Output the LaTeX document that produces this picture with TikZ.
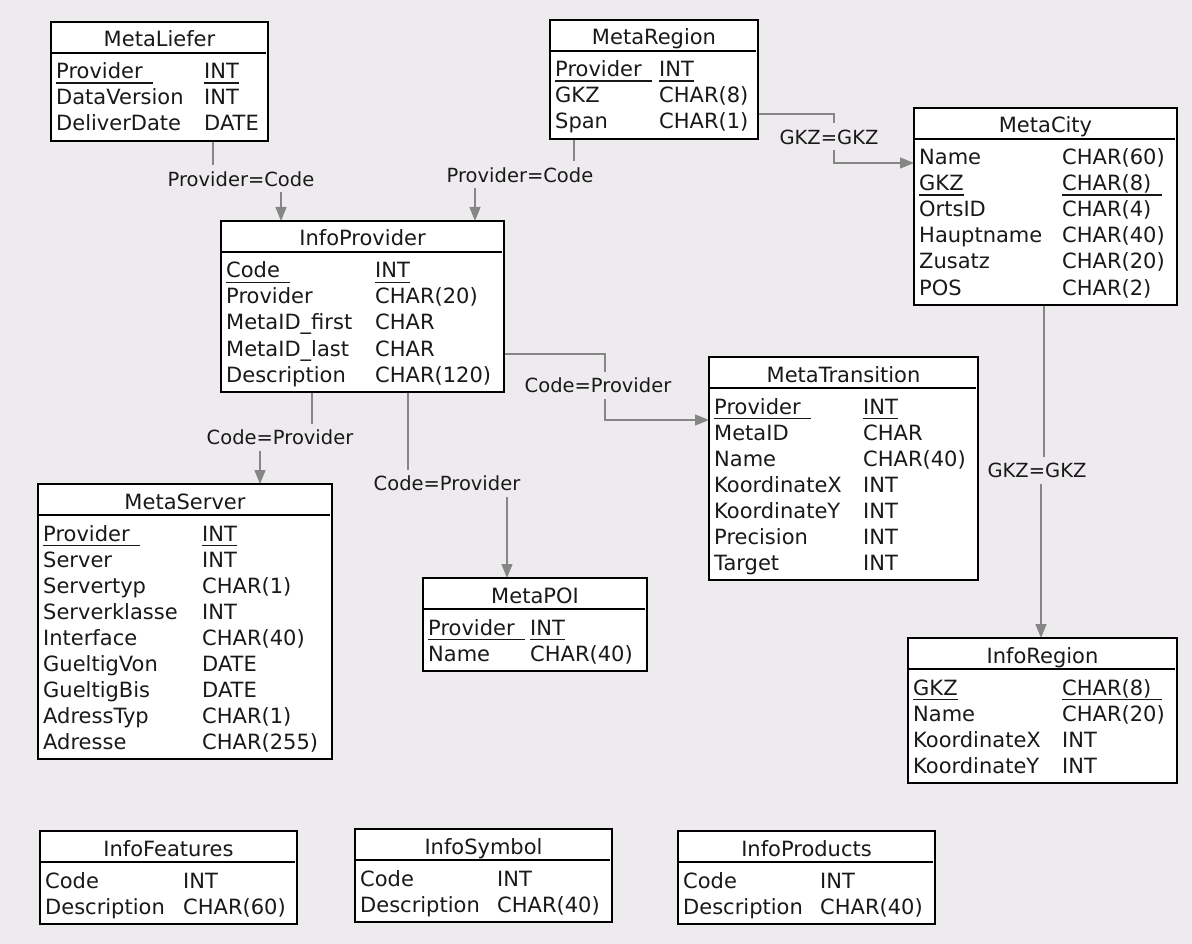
\documentclass[tikz,border=0pt]{standalone}
\usepackage{fontspec}
\setmainfont{DejaVu Sans}
\usetikzlibrary{arrows.meta,calc}
\definecolor{canvas}{HTML}{EEEBEE}
\definecolor{wire}{HTML}{868686}
\pgfdeclarelayer{bg}
\pgfdeclarelayer{wires}
\pgfsetlayers{bg,wires,main}

% key columns are underlined; \pks adds a trailing blank under the rule
\newcommand\pk[1]{\setbox0\hbox{#1}\rlap{\rule[-4.8pt]{\wd0}{1.3pt}}\box0}
\newcommand\pks[1]{\pk{#1\hspace{0.5em}}}

\tikzset{
  tbl/.style={draw=black, line width=1.2pt, fill=white, rectangle, inner sep=0pt, outer sep=0pt},
  txt/.style={inner sep=0pt, text=black!90, font=\fontsize{21pt}{26pt}\selectfont},
  titlerule/.style={line width=1.8pt},
  rel/.style={draw=wire, line width=1.4pt, -{Triangle[length=14pt,width=11pt]}},
  lbl/.style={fill=canvas, inner xsep=3pt, inner ysep=6pt, text height=15pt, text depth=0pt,
              text=black!90, font=\fontsize{19.5pt}{24pt}\selectfont},
}

% #1 name, #2 left, #3 top, #4 width, #5 type column offset, #6 rows, #7 title, #8 field/type list
\newcommand\ertable[8]{%
  \pgfmathsetmacro\tabh{41+26*#6}%
  \node[tbl, minimum width=#4pt, minimum height=\tabh pt, anchor=north west] (#1) at (#2,#3) {};
  \node[txt, anchor=base] (#1-title) at ($(#1.north)+(0,25)$) {#7};
  \draw[titlerule] ($(#1.north west)+(1,31)$) -- ($(#1.north east)+(-2,31)$);
  \foreach \fa/\fb [count=\i] in {#8} {
    \node[txt, anchor=base west] (#1-\i-a) at ($(#1.north west)+(5,{57+26*(\i-1)})$) {\fa};
    \node[txt, anchor=base west] (#1-\i-b) at ($(#1.north west)+(#5,{57+26*(\i-1)})$) {\fb};
  }%
}

\begin{document}
\begin{tikzpicture}[x=1pt,y=-1pt]
\begin{pgfonlayer}{bg}
  \fill[canvas] (0,0) rectangle (1192,944);
\end{pgfonlayer}
\useasboundingbox (0,0) rectangle (1192,944);

\ertable{ml}{51}{22}{217}{153}{3}{MetaLiefer}
  {\pks{Provider}/\pk{INT}, DataVersion/INT, DeliverDate/DATE}
\ertable{mr}{550}{20}{208}{109}{3}{MetaRegion}
  {\pks{Provider}/\pk{INT}, GKZ/CHAR(8), Span/CHAR(1)}
\ertable{mc}{914}{108}{263}{148}{6}{MetaCity}
  {Name/CHAR(60), \pk{GKZ}/\pks{CHAR(8)}, OrtsID/CHAR(4), Hauptname/CHAR(40), Zusatz/CHAR(20), POS/CHAR(2)}
\ertable{ip}{221}{221}{283}{154}{5}{InfoProvider}
  {\pks{Code}/\pk{INT}, Provider/CHAR(20), MetaID\_first/CHAR, MetaID\_last/CHAR, Description/CHAR(120)}
\ertable{mt}{709}{357}{269}{154}{7}{MetaTransition}
  {\pks{Provider}/\pk{INT}, MetaID/CHAR, Name/CHAR(40), KoordinateX/INT, KoordinateY/INT, Precision/INT, Target/INT}
\ertable{ms}{38}{484}{294}{164}{9}{MetaServer}
  {\pks{Provider}/\pk{INT}, Server/INT, Servertyp/CHAR(1), Serverklasse/INT, Interface/CHAR(40),
   GueltigVon/DATE, GueltigBis/DATE, AdressTyp/CHAR(1), Adresse/CHAR(255)}
\ertable{mp}{423}{578}{224}{107}{2}{MetaPOI}
  {\pks{Provider}/\pk{INT}, Name/CHAR(40)}
\ertable{ir}{908}{638}{269}{154}{4}{InfoRegion}
  {\pk{GKZ}/\pks{CHAR(8)}, Name/CHAR(20), KoordinateX/INT, KoordinateY/INT}
\ertable{if}{40}{831}{257}{143}{2}{InfoFeatures}
  {Code/INT, Description/CHAR(60)}
\ertable{is}{355}{829}{257}{142}{2}{InfoSymbol}
  {Code/INT, Description/CHAR(40)}
\ertable{iq}{678}{831}{257}{142}{2}{InfoProducts}
  {Code/INT, Description/CHAR(40)}

% join conditions
\node[lbl] (l1) at (241,179) {Provider=Code};
\node[lbl] (l2) at (520,175) {Provider=Code};
\node[lbl] (l3) at (829,137) {GKZ=GKZ};
\node[lbl] (l4) at (598,385) {Code=Provider};
\node[lbl] (l5) at (280,437) {Code=Provider};
\node[lbl] (l6) at (447,483) {Code=Provider};
\node[lbl] (l7) at (1037,470) {GKZ=GKZ};

\begin{pgfonlayer}{wires}
  \draw[rel] ([xshift=162pt]ml.south west) |- (l1.center) -| ([xshift=60pt]ip.north west);
  \draw[rel] ([xshift=24pt]mr.south west) |- (l2.center) -| ([xshift=254pt]ip.north west);
  \draw[rel] ([yshift=-94pt]mr.north east) -| ([xshift=5pt]l3.center) |- ([yshift=-55pt]mc.north west);
  \draw[rel] ([yshift=-133pt]ip.north east) -| ([xshift=7pt]l4.center) |- ([yshift=-63pt]mt.north west);
  \draw[rel] ([xshift=91pt]ip.south west) |- (l5.center) -| ([xshift=222pt]ms.north west);
  \draw[rel] ([xshift=187pt]ip.south west) |- (l6.center) -| ([xshift=84pt]mp.north west);
  \draw[rel] ([xshift=130pt]mc.south west) |- (l7.center) -| ([xshift=133pt]ir.north west);
\end{pgfonlayer}
\end{tikzpicture}
\end{document}
